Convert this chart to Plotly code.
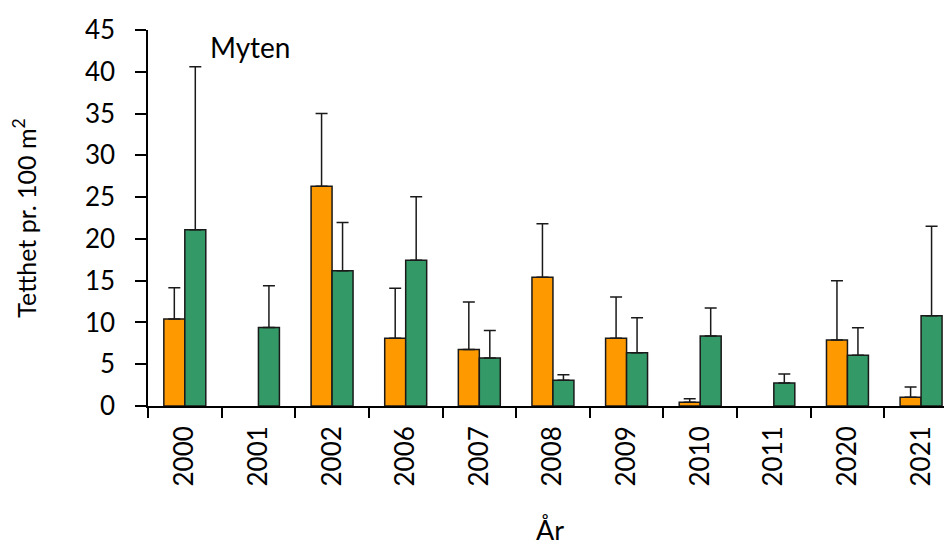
import plotly.graph_objects as go

years = ["2000", "2001", "2002", "2006", "2007", "2008", "2009", "2010", "2011", "2020", "2021"]
orange_vals = [10.4, None, 26.3, 8.1, 6.75, 15.4, 8.1, 0.45, None, 7.9, 1.05]
orange_err = [3.75, None, 8.7, 6.0, 5.7, 6.4, 4.95, 0.42, None, 7.1, 1.22]
green_vals = [21.1, 9.4, 16.2, 17.45, 5.75, 3.07, 6.38, 8.37, 2.75, 6.06, 10.8]
green_err = [19.5, 5.0, 5.75, 7.6, 3.3, 0.67, 4.17, 3.35, 1.08, 3.31, 10.7]

y_ticks = [0, 5, 10, 15, 20, 25, 30, 35, 40, 45]

FONT = "Lato"

def err(arr):
    return dict(type="data", array=arr, arrayminus=[0] * len(arr), symmetric=False,
                color="#1a1a1a", thickness=1.5, width=6, visible=True)

fig = go.Figure()
fig.add_trace(go.Bar(x=years, y=orange_vals, marker=dict(color="#FF9900", line=dict(color="#1a1a1a", width=1.5)),
                     error_y=err(orange_err), showlegend=False))
fig.add_trace(go.Bar(x=years, y=green_vals, marker=dict(color="#339966", line=dict(color="#1a1a1a", width=1.5)),
                     error_y=err(green_err), showlegend=False))

fig.update_layout(
    width=944, height=541,
    margin=dict(l=140, r=0, t=22, b=143),
    barmode="group", bargap=0.43, bargroupgap=0,
    plot_bgcolor="white", paper_bgcolor="white",
    font=dict(family=FONT, size=26, color="black"),
    xaxis=dict(type="category", range=[-0.5, 10.42], tickson="boundaries", ticks="outside", ticklen=10,
               tickwidth=1.5, tickcolor="black", showline=True, linecolor="black", linewidth=1.5,
               tickangle=-90, tickfont=dict(size=26), ticklabelstandoff=8,
               title=dict(text="År", standoff=36, font=dict(size=27)), showgrid=False, automargin=False),
    yaxis=dict(range=[0, 45], tickvals=y_ticks, ticks="outside", ticklen=11, tickwidth=1.5, tickcolor="black",
               showline=True, linecolor="black", linewidth=1.5, tickfont=dict(size=26), ticklabelstandoff=15,
               title=dict(text="Tetthet pr. 100 m<sup>2</sup>", standoff=42, font=dict(size=25)),
               showgrid=False, zeroline=False, automargin=False),
    annotations=[dict(text="Myten", x=0.315, y=43, xref="x", yref="y", xanchor="left", yanchor="middle",
                      showarrow=False, font=dict(size=28))],
)

fig.write_html("out.html")
